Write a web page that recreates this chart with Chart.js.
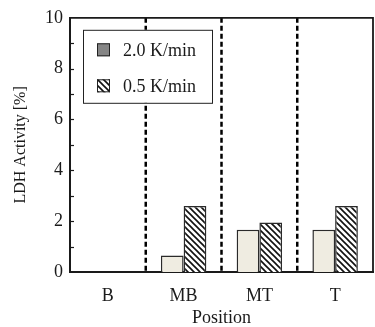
<!DOCTYPE html>
<html>
<head>
<meta charset="utf-8">
<script src="https://cdn.jsdelivr.net/npm/chart.js@4.4.1/dist/chart.umd.min.js"></script>
<style>
  html, body { margin: 0; padding: 0; background: #fff; }
  #wrap { width: 375px; height: 327px; }
</style>
</head>
<body>
<div id="wrap"><canvas id="chart"></canvas></div>
<script>
// ========== DATA ==========
const positions = ['B', 'MB', 'MT', 'T'];
const fastRate = [0, 0.65, 1.66, 1.66];   // 2.0 K/min
const slowRate = [0, 2.6, 1.95, 2.6];     // 0.5 K/min
const seriesNames = ['2.0 K/min', '0.5 K/min'];
const yTicks = [0, 2, 4, 6, 8, 10];

const serif = "'Liberation Serif', 'Times New Roman', serif";
const ink = '#1a1a1a';

// diagonal hatch for the 0.5 K/min bars
function makeHatch() {
  const c = document.createElement('canvas');
  c.width = 6; c.height = 6;
  const g = c.getContext('2d');
  g.fillStyle = '#fff';
  g.fillRect(0, 0, 6, 6);
  g.strokeStyle = '#111';
  g.lineWidth = 1.6;
  g.beginPath();
  g.moveTo(-1, -1); g.lineTo(7, 7);
  g.moveTo(-4, 2); g.lineTo(4, 10);
  g.moveTo(2, -4); g.lineTo(10, 4);
  g.stroke();
  return g.createPattern(c, 'repeat');
}
const hatch = makeHatch();

// frame, minor ticks, dashed separators, legend box
const decorations = {
  id: 'decorations',
  beforeDatasetsDraw(chart) {
    const { ctx, chartArea: a, scales } = chart;
    ctx.save();
    // dashed separators between positions
    ctx.strokeStyle = '#000';
    ctx.lineWidth = 2.5;
    ctx.setLineDash([5, 3]);
    for (let i = 0; i < positions.length - 1; i++) {
      const x = (scales.x.getPixelForValue(i) + scales.x.getPixelForValue(i + 1)) / 2;
      ctx.beginPath();
      ctx.moveTo(x, a.top);
      ctx.lineTo(x, a.bottom);
      ctx.stroke();
    }
    ctx.restore();
  },
  afterDraw(chart) {
    const { ctx, chartArea: a, scales } = chart;
    ctx.save();
    // top & right frame
    ctx.strokeStyle = ink;
    ctx.lineWidth = 1.8;
    ctx.beginPath();
    ctx.moveTo(a.left, a.top);
    ctx.lineTo(a.right, a.top);
    ctx.lineTo(a.right, a.bottom);
    ctx.stroke();
    // inward ticks every 1 %
    ctx.lineWidth = 1.2;
    for (let v = 1; v < 10; v++) {
      const y = Math.round(scales.y.getPixelForValue(v)) + 0.5;
      ctx.beginPath();
      ctx.moveTo(a.left, y);
      ctx.lineTo(a.left + 4, y);
      ctx.stroke();
    }
    // legend
    const bx = a.left + 13, by = a.top + 12, bw = 129, bh = 73;
    ctx.fillStyle = '#fff';
    ctx.fillRect(bx, by, bw, bh);
    ctx.lineWidth = 1;
    ctx.strokeStyle = '#222';
    ctx.strokeRect(bx + 0.5, by + 0.5, bw, bh);
    const fills = ['#858585', hatch];
    ctx.font = '18px ' + serif;
    ctx.textBaseline = 'middle';
    ctx.textAlign = 'left';
    seriesNames.forEach((name, i) => {
      const cy = by + 20 + i * 36;
      ctx.fillStyle = fills[i];
      ctx.fillRect(bx + 14, cy - 6.5, 13, 13);
      ctx.strokeStyle = '#222';
      ctx.strokeRect(bx + 14.5, cy - 6, 12, 12);
      ctx.fillStyle = ink;
      ctx.fillText(name, bx + 40, cy + 1);
    });
    ctx.restore();
  }
};

new Chart(document.getElementById('chart'), {
  type: 'bar',
  data: {
    labels: positions,
    datasets: [
      {
        label: seriesNames[0],
        data: fastRate,
        backgroundColor: '#efece1',
        borderColor: '#2a2a2a',
        borderWidth: { top: 1.5, left: 1.5, right: 1.5, bottom: 0 },
        borderSkipped: false,
        categoryPercentage: 0.6,
        barPercentage: 1.0
      },
      {
        label: seriesNames[1],
        data: slowRate,
        backgroundColor: hatch,
        borderColor: '#2a2a2a',
        borderWidth: { top: 1.5, left: 1.5, right: 1.5, bottom: 0 },
        borderSkipped: false,
        categoryPercentage: 0.6,
        barPercentage: 1.0
      }
    ]
  },
  options: {
    responsive: true,
    maintainAspectRatio: false,
    animation: false,
    layout: { padding: { top: 15, right: 2, left: 0, bottom: 0 } },
    plugins: {
      legend: { display: false },
      tooltip: { enabled: false }
    },
    scales: {
      x: {
        grid: { display: false, drawTicks: false },
        border: { display: true, color: ink, width: 2 },
        ticks: { color: ink, font: { family: serif, size: 18 }, padding: 13 },
        title: {
          display: true,
          text: 'Position',
          color: ink,
          font: { family: serif, size: 18, lineHeight: 1.0 },
          padding: { top: 0, bottom: 0 }
        },
        afterFit(scale) { scale.height = 55; }
      },
      y: {
        min: 0,
        max: 10,
        afterBuildTicks(scale) { scale.ticks = yTicks.map(v => ({ value: v })); },
        grid: { display: false, drawTicks: false },
        border: { display: true, color: ink, width: 2 },
        ticks: { color: ink, font: { family: serif, size: 18 }, padding: 7 },
        title: {
          display: true,
          text: 'LDH Activity [%]',
          color: ink,
          font: { family: serif, size: 16, lineHeight: 1.2 },
          padding: { top: 11, bottom: 0 }
        },
        afterFit(scale) { scale.width = 70; }
      }
    }
  },
  plugins: [decorations]
});
</script>
</body>
</html>
